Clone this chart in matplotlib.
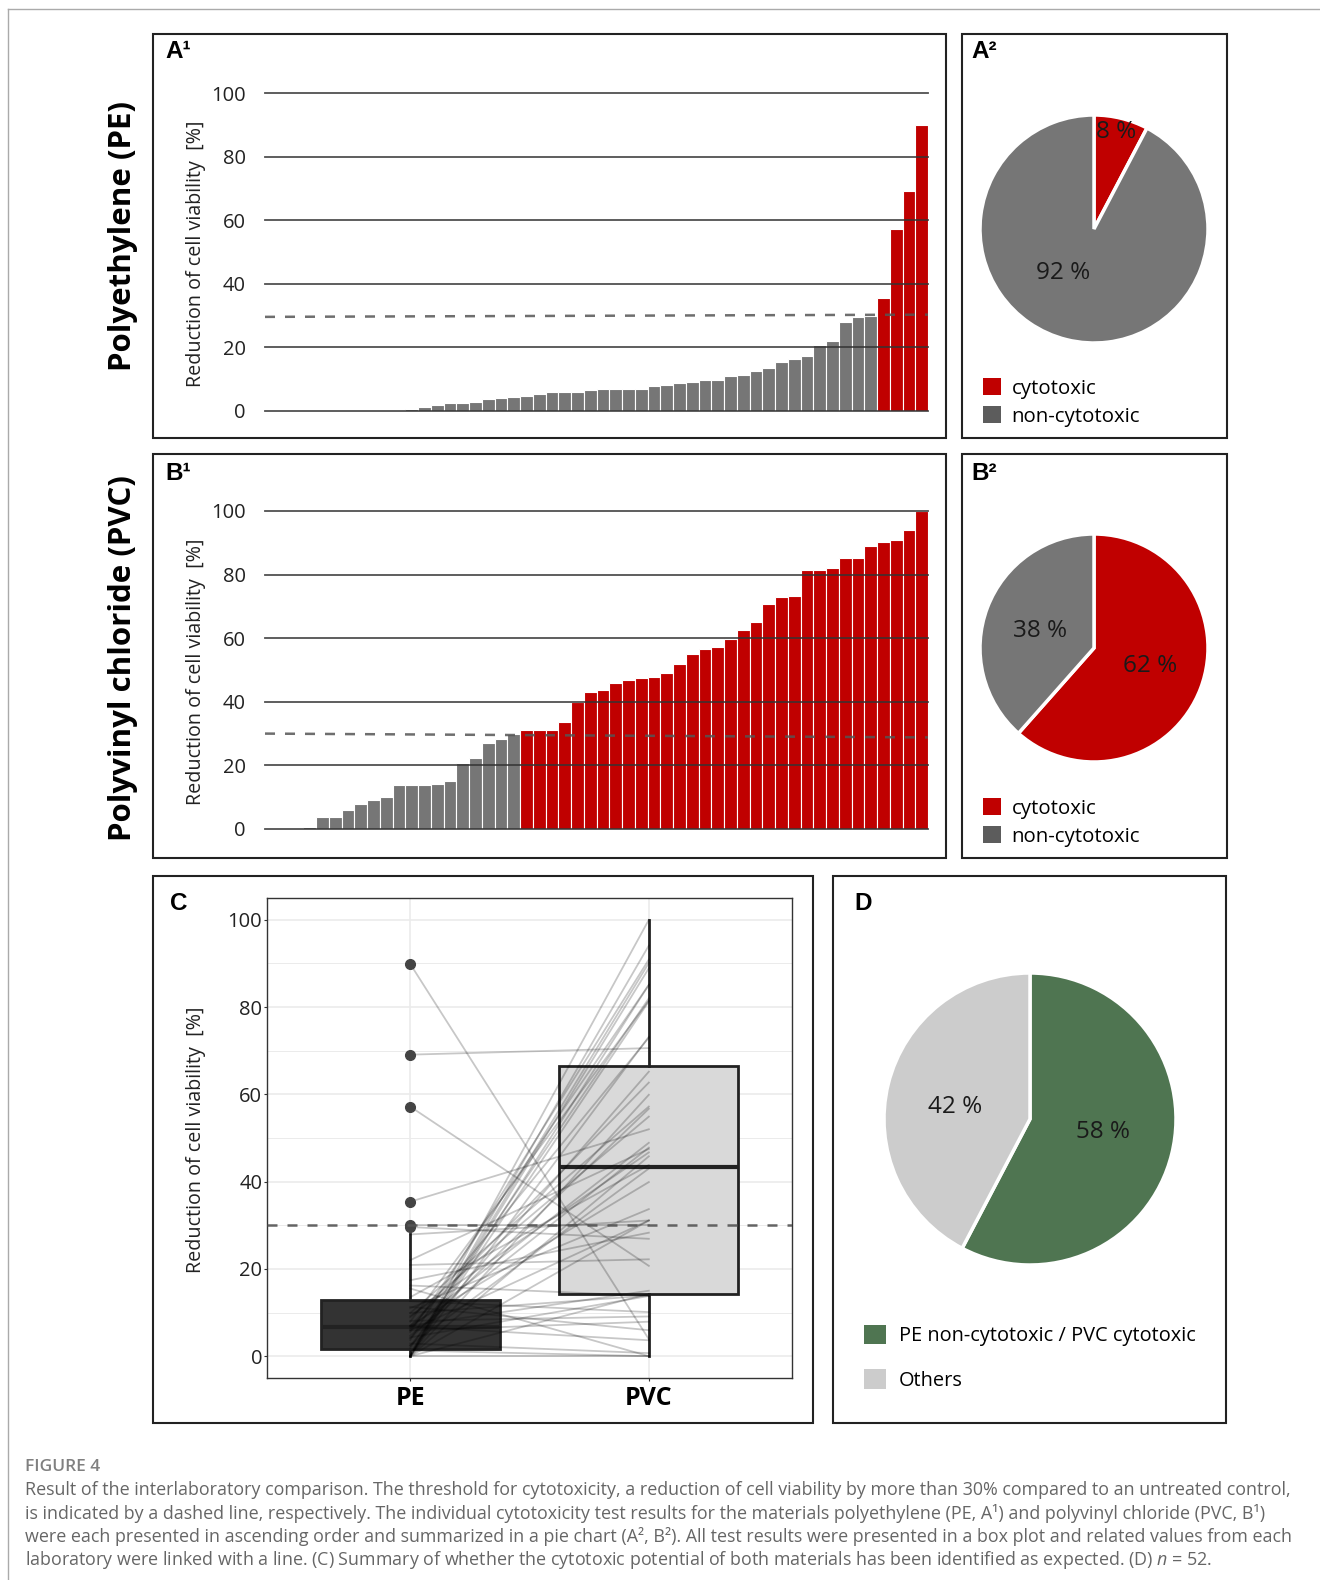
import matplotlib
matplotlib.use("Agg")
import matplotlib.pyplot as plt
from matplotlib.patches import Rectangle, Patch
from matplotlib.lines import Line2D

plt.rcParams['font.family'] = ['Open Sans', 'DejaVu Sans']
plt.rcParams['mathtext.fontset'] = 'custom'
plt.rcParams['mathtext.it'] = 'Open Sans:italic'
plt.rcParams['mathtext.rm'] = 'Open Sans'

# reduction of cell viability [%], one entry per laboratory (same order in both lists)
pe_lab = [0, 0, 0, 0, 0, 0, 0, 0, 0, 0, 0,
          0.5, 1.3, 1.9, 2.4, 2.5, 2.9, 3.7, 4.1, 4.3, 4.7,
          5.5, 5.9, 5.9, 6.1, 6.5, 6.8, 6.9, 7.0, 7.0, 7.9,
          8.1, 8.9, 9.2, 9.9, 9.9, 11.0, 11.3, 12.6, 13.5, 15.5,
          16.2, 17.4, 20.9, 22.0, 27.9, 29.6, 30.0, 35.4, 57.2, 69.1, 89.9]
pvc_lab = [100, 94.1, 88.9, 85.1, 81.3, 73.2, 59.9, 45.8, 31.1, 0, 14.3,
           90.1, 0, 82.0, 65.2, 43.0, 0.7, 90.9, 56.7, 13.8, 47.8,
           85.1, 7.9, 31.1, 73.0, 48.9, 3.65, 62.7, 39.9, 15.0, 81.5,
           9.1, 54.9, 46.7, 13.9, 57.2, 33.7, 5.95, 10.1, 43.8, 0,
           13.8, 28.3, 22.2, 47.5, 31.1, 26.9, 30.0, 52.0, 20.7, 70.6, 3.9]

threshold = 30
yticks = [0, 20, 40, 60, 80, 100]
tox_labels = ['cytotoxic', 'non-cytotoxic']
d_labels = ['PE non-cytotoxic / PVC cytotoxic', 'Others']
materials = ['PE', 'PVC']

RED = '#c00000'
GREY = '#767676'
GREY_KEY = '#5c5c5c'
GREEN = '#4f7551'
LIGHT = '#cccccc'

W, H = 1320, 1580


def frac(x0, y0, x1, y1):
    # pixel box (top-left origin) -> figure fraction rect
    return [x0 / W, 1 - y1 / H, (x1 - x0) / W, (y1 - y0) / H]


def fx(x):
    return x / W


def fy(y):
    return 1 - y / H


fig = plt.figure(figsize=(13.2, 15.8), dpi=100)

# outer page border
fig.add_artist(Line2D([fx(8), 1], [fy(9), fy(9)], color='#aaaaaa', lw=1))
fig.add_artist(Line2D([fx(8), fx(8)], [fy(9), 0], color='#aaaaaa', lw=1))

# panel frames
for box in [(153, 34, 946, 438), (962, 34, 1227, 438),
            (153, 454, 946, 858), (962, 454, 1227, 858),
            (153, 876, 813, 1423), (833, 876, 1226, 1423)]:
    r = frac(*box)
    fig.add_artist(Rectangle((r[0], r[1]), r[2], r[3], transform=fig.transFigure,
                             fill=False, ec='#222222', lw=1.5))


def bar_panel(rect, values, dash):
    ax = fig.add_axes(frac(*rect))
    vals = sorted(values)
    cols = [RED if v > threshold else GREY for v in vals]
    ax.bar(range(len(vals)), vals, width=1.0, color=cols, edgecolor='white', linewidth=0.8, zorder=2)
    for t in yticks:
        ax.axhline(t, color='#333333', lw=1.3, alpha=0.85, zorder=3, clip_on=False)
    ax.plot([-0.5, len(vals) - 0.5], dash, ls=(0, (4, 4)), color='#555555', lw=1.8, alpha=0.85,
            zorder=4, clip_on=False)
    ax.set_xlim(-0.5, len(vals) - 0.5)
    ax.set_ylim(0, 100)
    ax.set_yticks(yticks)
    ax.set_xticks([])
    ax.tick_params(axis='y', length=0, pad=14, labelsize=14.5, labelcolor='#222222')
    for s in ax.spines.values():
        s.set_visible(False)
    return ax


bar_panel((265, 93, 928, 411), pe_lab, [29.6, 30.3])
bar_panel((265, 511, 928, 829), pvc_lab, [30.0, 28.8])

for yc in [254, 672]:
    fig.text(fx(196), fy(yc), 'Reduction of cell viability  [%]', rotation=90, fontsize=14.2,
             ha='center', va='center', color='#222222')

fig.text(fx(123), fy(236), 'Polyethylene (PE)', rotation=90, fontsize=22.5, weight='bold',
         ha='center', va='center')
fig.text(fx(123), fy(658), 'Polyvinyl chloride (PVC)', rotation=90, fontsize=22.5, weight='bold',
         ha='center', va='center')


def pie_panel(cx, cy, r, sizes, colors, label_pos, fs):
    s = 1.25 * r
    ax = fig.add_axes(frac(cx - s, cy - s, cx + s, cy + s))
    ax.pie(sizes, colors=colors, startangle=90, counterclock=False,
           wedgeprops=dict(edgecolor='white', linewidth=2.5))
    total = sum(sizes)
    for n, (px, py) in zip(sizes, label_pos):
        ax.text(px, py, f'{round(100 * n / total)} %', fontsize=fs, ha='center', va='center',
                color='#1a1a1a')
    ax.set_xlim(-1.25, 1.25)
    ax.set_ylim(-1.25, 1.25)
    ax.set_aspect('equal')
    return ax


pe_tox = sum(v > threshold for v in pe_lab)
pvc_tox = sum(v > threshold for v in pvc_lab)
both_ok = sum((a <= threshold) and (b > threshold) for a, b in zip(pe_lab, pvc_lab))

pie_panel(1094, 229, 114, [pe_tox, len(pe_lab) - pe_tox], [RED, GREY],
          [(0.19, 0.85), (-0.27, -0.39)], 17.5)
pie_panel(1094, 648, 114, [pvc_tox, len(pvc_lab) - pvc_tox], [RED, GREY],
          [(0.49, -0.16), (-0.47, 0.15)], 17.5)
pie_panel(1030, 1119, 146, [both_ok, len(pe_lab) - both_ok], [GREEN, LIGHT],
          [(0.50, -0.09), (-0.51, 0.08)], 17.5)

for ytop in [378, 798]:
    fig.legend(handles=[Patch(fc=RED), Patch(fc=GREY_KEY)], labels=tox_labels,
               loc='upper left', bbox_to_anchor=(fx(983), fy(ytop)), frameon=False,
               fontsize=14.7, handlelength=0.9, handleheight=0.9, handletextpad=0.5,
               labelspacing=0.38, borderaxespad=0, borderpad=0)
fig.legend(handles=[Patch(fc=GREEN), Patch(fc=LIGHT)], labels=d_labels,
           loc='upper left', bbox_to_anchor=(fx(864), fy(1325)), frameon=False,
           fontsize=14.4, handlelength=1.1, handleheight=1.1, handletextpad=0.65,
           labelspacing=1.15, borderaxespad=0, borderpad=0)

# panel C: box plot with lines linking each laboratory
ax = fig.add_axes(frac(267, 898, 792, 1378))
for t in range(0, 101, 10):
    ax.axhline(t, color='#ebebeb', lw=1.2 if t % 20 == 0 else 0.7, zorder=0)
for xpos in [1, 2]:
    ax.axvline(xpos, color='#ebebeb', lw=1.2, zorder=0)
bp = ax.boxplot([pe_lab, pvc_lab], positions=[1, 2], widths=0.75, patch_artist=True,
                showcaps=False, whis=1.5,
                flierprops=dict(marker='o', markerfacecolor='#444444', markeredgecolor='#444444',
                                markersize=7),
                medianprops=dict(color='#222222', lw=3),
                whiskerprops=dict(color='#222222', lw=2),
                boxprops=dict(lw=2))
for patch, fc in zip(bp['boxes'], ['#333333', '#d9d9d9']):
    patch.set_facecolor(fc)
    patch.set_edgecolor('#222222')
    patch.set_zorder(2)
for a, b in zip(pe_lab, pvc_lab):
    ax.plot([1, 2], [a, b], color='black', alpha=0.22, lw=1.3, zorder=3)
for f in bp['fliers']:
    f.set_zorder(4)
ax.axhline(threshold, ls=(0, (4, 4)), color='#555555', lw=1.8, alpha=0.9, zorder=5)
ax.set_xlim(0.4, 2.6)
ax.set_ylim(-5, 105)
ax.set_yticks(yticks)
ax.set_xticks([1, 2])
ax.set_xticklabels(materials, fontsize=18, weight='bold')
ax.tick_params(axis='y', labelsize=14.5, labelcolor='#222222', length=2, pad=1.5, color='#333333')
ax.tick_params(axis='x', length=2, color='#333333', pad=4)
for s in ax.spines.values():
    s.set_color('#333333')
    s.set_linewidth(1.0)
fig.text(fx(196), fy(1140), 'Reduction of cell viability  [%]', rotation=90, fontsize=14.2,
         ha='center', va='center', color='#222222')

# panel letters
for lab, x, y in [('A¹', 165, 51), ('A²', 971, 51), ('B¹', 165, 474), ('B²', 971, 474),
                  ('C', 170, 903), ('D', 854, 903)]:
    fig.text(fx(x), fy(y), lab, fontsize=17.5, weight='bold', family='Liberation Sans',
             ha='left', va='center')

# caption
fig.text(fx(25), fy(1467), 'FIGURE 4', fontsize=12.5, weight='semibold', color='#808080',
         va='center')
caption = [
    'Result of the interlaboratory comparison. The threshold for cytotoxicity, a reduction of cell viability by more than 30% compared to an untreated control,',
    'is indicated by a dashed line, respectively. The individual cytotoxicity test results for the materials polyethylene (PE, A¹) and polyvinyl chloride (PVC, B¹)',
    'were each presented in ascending order and summarized in a pie chart (A², B²). All test results were presented in a box plot and related values from each',
    'laboratory were linked with a line. (C) Summary of whether the cytotoxic potential of both materials has been identified as expected. (D) $n$ = 52.',
]
for i, line in enumerate(caption):
    fig.text(fx(25), fy(1490 + 23.3 * i), line, fontsize=12.9, color='#666666', va='center')

fig.savefig('out.png', dpi=100, facecolor='white')
